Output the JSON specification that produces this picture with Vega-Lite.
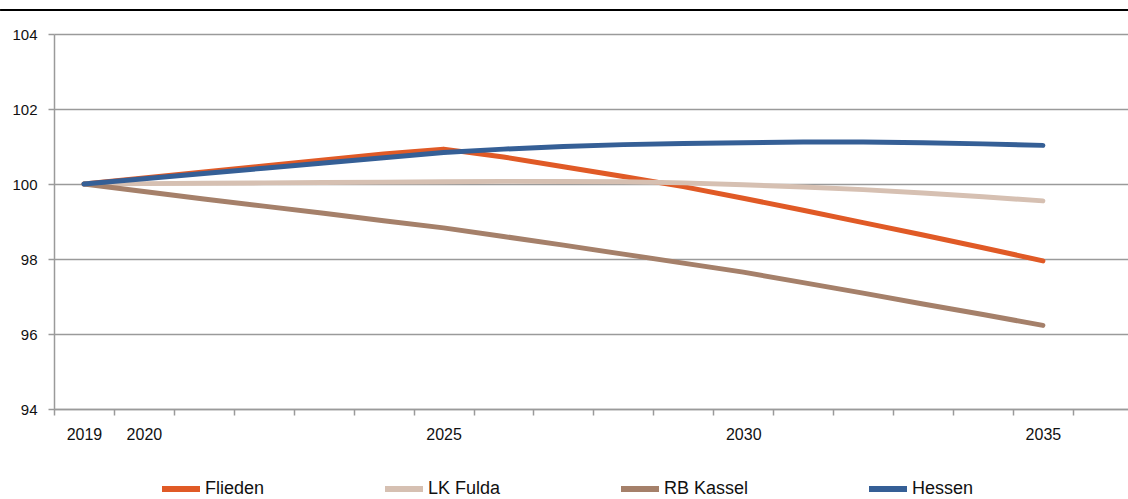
{
  "$schema": "https://vega.github.io/schema/vega-lite/v6.json",
  "width": 1074,
  "height": 375,
  "autosize": {"type": "none"},
  "padding": {"left": 54, "top": 34, "right": 0, "bottom": 90},
  "background": "white",
  "config": {"view": {"stroke": null}, "font": "Liberation Sans"},
  "data": {"values": [
    {"region": "Flieden", "year": 2019, "value": 100},
    {"region": "Flieden", "year": 2020, "value": 100.16},
    {"region": "Flieden", "year": 2021, "value": 100.32},
    {"region": "Flieden", "year": 2022, "value": 100.48},
    {"region": "Flieden", "year": 2023, "value": 100.64},
    {"region": "Flieden", "year": 2024, "value": 100.8},
    {"region": "Flieden", "year": 2025, "value": 100.93},
    {"region": "Flieden", "year": 2026, "value": 100.72},
    {"region": "Flieden", "year": 2027, "value": 100.46},
    {"region": "Flieden", "year": 2028, "value": 100.2},
    {"region": "Flieden", "year": 2029, "value": 99.93},
    {"region": "Flieden", "year": 2030, "value": 99.62},
    {"region": "Flieden", "year": 2031, "value": 99.3},
    {"region": "Flieden", "year": 2032, "value": 98.97},
    {"region": "Flieden", "year": 2033, "value": 98.64},
    {"region": "Flieden", "year": 2034, "value": 98.3},
    {"region": "Flieden", "year": 2035, "value": 97.95},
    {"region": "LK Fulda", "year": 2019, "value": 100},
    {"region": "LK Fulda", "year": 2020, "value": 100.01},
    {"region": "LK Fulda", "year": 2021, "value": 100.02},
    {"region": "LK Fulda", "year": 2022, "value": 100.03},
    {"region": "LK Fulda", "year": 2023, "value": 100.04},
    {"region": "LK Fulda", "year": 2024, "value": 100.05},
    {"region": "LK Fulda", "year": 2025, "value": 100.06},
    {"region": "LK Fulda", "year": 2026, "value": 100.07},
    {"region": "LK Fulda", "year": 2027, "value": 100.07},
    {"region": "LK Fulda", "year": 2028, "value": 100.06},
    {"region": "LK Fulda", "year": 2029, "value": 100.03},
    {"region": "LK Fulda", "year": 2030, "value": 99.98},
    {"region": "LK Fulda", "year": 2031, "value": 99.92},
    {"region": "LK Fulda", "year": 2032, "value": 99.85},
    {"region": "LK Fulda", "year": 2033, "value": 99.76},
    {"region": "LK Fulda", "year": 2034, "value": 99.66},
    {"region": "LK Fulda", "year": 2035, "value": 99.55},
    {"region": "RB Kassel", "year": 2019, "value": 100},
    {"region": "RB Kassel", "year": 2020, "value": 99.8},
    {"region": "RB Kassel", "year": 2021, "value": 99.6},
    {"region": "RB Kassel", "year": 2022, "value": 99.41},
    {"region": "RB Kassel", "year": 2023, "value": 99.22},
    {"region": "RB Kassel", "year": 2024, "value": 99.02},
    {"region": "RB Kassel", "year": 2025, "value": 98.83},
    {"region": "RB Kassel", "year": 2026, "value": 98.6},
    {"region": "RB Kassel", "year": 2027, "value": 98.37},
    {"region": "RB Kassel", "year": 2028, "value": 98.13},
    {"region": "RB Kassel", "year": 2029, "value": 97.89},
    {"region": "RB Kassel", "year": 2030, "value": 97.65},
    {"region": "RB Kassel", "year": 2031, "value": 97.37},
    {"region": "RB Kassel", "year": 2032, "value": 97.09},
    {"region": "RB Kassel", "year": 2033, "value": 96.8},
    {"region": "RB Kassel", "year": 2034, "value": 96.52},
    {"region": "RB Kassel", "year": 2035, "value": 96.23},
    {"region": "Hessen", "year": 2019, "value": 100},
    {"region": "Hessen", "year": 2020, "value": 100.14},
    {"region": "Hessen", "year": 2021, "value": 100.28},
    {"region": "Hessen", "year": 2022, "value": 100.42},
    {"region": "Hessen", "year": 2023, "value": 100.56},
    {"region": "Hessen", "year": 2024, "value": 100.7},
    {"region": "Hessen", "year": 2025, "value": 100.84},
    {"region": "Hessen", "year": 2026, "value": 100.93},
    {"region": "Hessen", "year": 2027, "value": 101.0},
    {"region": "Hessen", "year": 2028, "value": 101.05},
    {"region": "Hessen", "year": 2029, "value": 101.08},
    {"region": "Hessen", "year": 2030, "value": 101.1},
    {"region": "Hessen", "year": 2031, "value": 101.12},
    {"region": "Hessen", "year": 2032, "value": 101.12},
    {"region": "Hessen", "year": 2033, "value": 101.1},
    {"region": "Hessen", "year": 2034, "value": 101.07},
    {"region": "Hessen", "year": 2035, "value": 101.03}
  ]},
  "resolve": {"axis": {"x": "independent"}},
  "layer": [
    {
      "mark": {"type": "line", "opacity": 0},
      "encoding": {
        "x": {"field": "year", "type": "quantitative",
          "scale": {"domain": [2018.5, 2036.42], "nice": false, "zero": false},
          "axis": {"orient": "bottom", "title": null, "values": [2018.5, 2019.5, 2020.5, 2021.5, 2022.5, 2023.5, 2024.5, 2025.5, 2026.5, 2027.5, 2028.5, 2029.5, 2030.5, 2031.5, 2032.5, 2033.5, 2034.5, 2035.5],
            "labels": false, "grid": false, "ticks": true, "tickSize": 6, "tickColor": "#9a9a9a", "tickWidth": 1.5,
            "domainColor": "#9a9a9a", "domainWidth": 1.5}},
        "y": {"field": "value", "type": "quantitative",
          "scale": {"domain": [94, 104], "nice": false, "zero": false},
          "axis": {"title": null, "values": [94, 96, 98, 100, 102, 104], "grid": true, "gridColor": "#9a9a9a", "gridWidth": 1.5,
            "tickSize": 6, "tickColor": "#9a9a9a", "tickWidth": 1.5, "domainColor": "#9a9a9a", "domainWidth": 1.5,
            "labelFontSize": 15, "labelPadding": 11, "labelColor": "#111111"}},
        "detail": {"field": "region"}
      }
    },
    {
      "mark": {"type": "line", "strokeWidth": 5, "strokeCap": "round", "strokeJoin": "round"},
      "encoding": {
        "x": {"field": "year", "type": "quantitative",
          "axis": {"orient": "bottom", "title": null, "values": [2019, 2020, 2025, 2030, 2035], "format": "d",
            "ticks": false, "tickSize": 0, "domain": false, "grid": false, "labelFontSize": 16, "labelPadding": 17, "labelColor": "#111111"}},
        "y": {"field": "value", "type": "quantitative"},
        "color": {"field": "region", "type": "nominal",
          "scale": {"domain": ["Flieden", "LK Fulda", "RB Kassel", "Hessen"], "range": ["#E05A26", "#D6C0B2", "#A5806A", "#355F96"]},
          "legend": {"orient": "none", "legendX": 105, "legendY": 433, "direction": "horizontal", "title": null,
            "symbolType": "stroke", "symbolSize": 1444, "symbolStrokeWidth": 6, "labelFontSize": 18, "labelColor": "#111111",
            "columnPadding": 108, "labelOffset": 2}}
      }
    },
    {
      "data": {"values": [{"edge": "top"}]},
      "mark": {"type": "rule", "stroke": "#000000", "strokeWidth": 2, "clip": false},
      "encoding": {
        "x": {"datum": 2017.6, "type": "quantitative", "axis": null},
        "x2": {"datum": 2036.42},
        "y": {"datum": 104.64, "type": "quantitative"}
      }
    }
  ]
}
